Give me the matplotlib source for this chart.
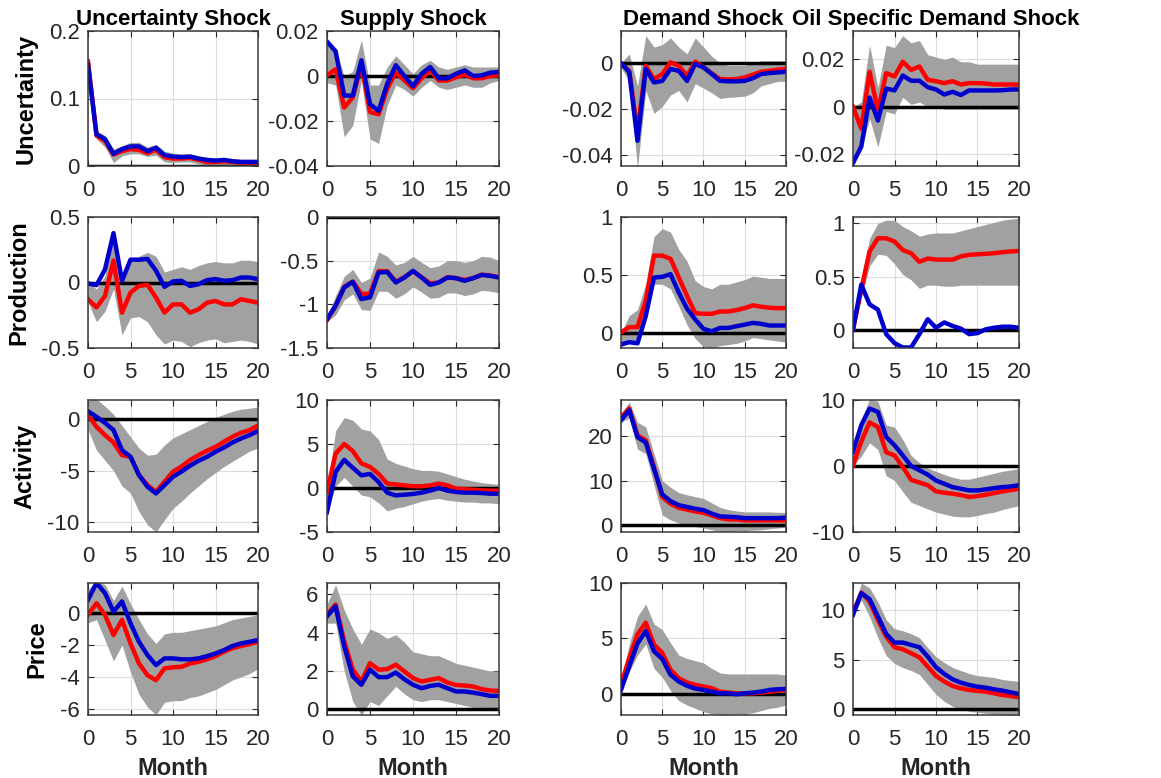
import matplotlib
matplotlib.use("Agg")
import matplotlib.pyplot as plt
import numpy as np

# impulse responses, months 0..20
months = np.arange(21)

shock_titles = ["Uncertainty Shock", "Supply Shock", "Demand Shock", "Oil Specific Demand Shock"]
var_labels = ["Uncertainty", "Production", "Activity", "Price"]

# --- Uncertainty row ---
uu_red = [0.155, 0.045, 0.037, 0.017, 0.022, 0.025, 0.024, 0.019, 0.024, 0.013, 0.011, 0.011, 0.012, 0.009, 0.006, 0.006, 0.007, 0.006, 0.005, 0.005, 0.005]
uu_blue = [0.150, 0.047, 0.040, 0.018, 0.025, 0.029, 0.029, 0.022, 0.027, 0.016, 0.014, 0.013, 0.014, 0.011, 0.009, 0.008, 0.009, 0.007, 0.006, 0.006, 0.006]
uu_lo = [0.145, 0.040, 0.028, 0.005, 0.015, 0.018, 0.018, 0.014, 0.016, 0.006, 0.005, 0.006, 0.006, 0.003, 0.002, 0.002, 0.002, 0.002, 0.001, 0.001, 0.001]
uu_hi = [0.158, 0.052, 0.045, 0.025, 0.030, 0.035, 0.035, 0.028, 0.032, 0.022, 0.019, 0.018, 0.018, 0.015, 0.012, 0.012, 0.012, 0.011, 0.010, 0.010, 0.010]

su_red = [0.0003, 0.003, -0.014, -0.0095, 0.005, -0.016, -0.017, -0.0057, 0.0015, -0.002, -0.0054, -0.001, 0.0025, -0.002, -0.002, -0.0006, 0.0006, -0.001, -0.001, 0.0, 0.0003]
su_blue = [0.0153, 0.011, -0.0087, -0.0087, 0.007, -0.0125, -0.0155, -0.0035, 0.0048, 0.0, -0.0045, 0.001, 0.004, -0.001, -0.001, 0.001, 0.0025, 0.0, 0.0003, 0.0015, 0.0018]
su_lo = [-0.003, -0.004, -0.027, -0.022, -0.002, -0.028, -0.030, -0.013, -0.004, -0.006, -0.009, -0.005, -0.002, -0.005, -0.006, -0.005, -0.004, -0.005, -0.005, -0.003, -0.002]
su_hi = [0.016, 0.012, 0.0, 0.002, 0.016, -0.004, -0.004, 0.004, 0.009, 0.005, 0.001, 0.005, 0.007, 0.004, 0.003, 0.004, 0.005, 0.004, 0.004, 0.004, 0.004]

du_red = [-0.0004, -0.0034, -0.030, -0.0012, -0.007, -0.0048, 0.0003, -0.0012, -0.0056, 0.0006, -0.0019, -0.0045, -0.007, -0.0072, -0.007, -0.0063, -0.0051, -0.0038, -0.0034, -0.0029, -0.0026]
du_blue = [0.0, -0.004, -0.034, -0.0026, -0.0085, -0.0078, -0.0026, -0.0034, -0.0078, -0.0004, -0.0019, -0.0048, -0.0078, -0.008, -0.008, -0.0078, -0.0066, -0.0048, -0.0044, -0.0041, -0.0038]
du_lo = [-0.002, -0.008, -0.046, -0.012, -0.022, -0.019, -0.014, -0.012, -0.017, -0.009, -0.011, -0.013, -0.0155, -0.015, -0.0148, -0.0145, -0.013, -0.010, -0.009, -0.008, -0.008]
du_hi = [0.0, 0.004, -0.010, 0.012, 0.007, 0.008, 0.011, 0.007, 0.004, 0.011, 0.007, 0.003, 0.0, -0.001, -0.001, -0.001, 0.0, 0.001, 0.001, 0.001, 0.001]

ou_red = [0.0, -0.0092, 0.0148, -0.0017, 0.0142, 0.0128, 0.019, 0.0156, 0.017, 0.0114, 0.0108, 0.010, 0.0108, 0.0094, 0.010, 0.010, 0.0098, 0.0094, 0.0094, 0.0094, 0.0094]
ou_blue = [-0.0237, -0.0168, 0.0039, -0.0058, 0.0077, 0.0069, 0.0132, 0.011, 0.011, 0.0083, 0.0073, 0.0052, 0.0063, 0.005, 0.0069, 0.0069, 0.0069, 0.0069, 0.007, 0.0073, 0.0073]
ou_lo = [-0.025, -0.018, -0.005, -0.017, -0.002, -0.003, 0.004, 0.001, 0.002, 0.0, 0.0, -0.001, -0.001, -0.001, -0.001, -0.001, -0.001, -0.001, -0.001, -0.001, -0.001]
ou_hi = [0.0, 0.002, 0.026, 0.008, 0.026, 0.025, 0.030, 0.027, 0.028, 0.022, 0.021, 0.020, 0.021, 0.019, 0.019, 0.018, 0.018, 0.018, 0.018, 0.018, 0.018]

# --- Production row ---
up_red = [-0.128, -0.19, -0.103, 0.167, -0.23, -0.077, -0.026, -0.018, -0.115, -0.23, -0.167, -0.167, -0.23, -0.205, -0.154, -0.141, -0.167, -0.167, -0.128, -0.141, -0.154]
up_blue = [-0.008, -0.02, 0.10, 0.377, 0.013, 0.174, 0.174, 0.18, 0.09, -0.033, 0.008, 0.013, -0.026, -0.013, 0.018, 0.026, 0.013, 0.018, 0.038, 0.038, 0.026]
up_lo = [-0.15, -0.30, -0.22, -0.05, -0.40, -0.27, -0.26, -0.30, -0.40, -0.47, -0.44, -0.45, -0.49, -0.46, -0.44, -0.43, -0.46, -0.45, -0.44, -0.45, -0.47]
up_hi = [0.0, -0.05, 0.05, 0.38, 0.05, 0.15, 0.20, 0.23, 0.20, 0.08, 0.10, 0.12, 0.10, 0.13, 0.15, 0.16, 0.15, 0.15, 0.17, 0.17, 0.16]

sp_red = [-1.18, -1.02, -0.80, -0.74, -0.88, -0.88, -0.62, -0.62, -0.74, -0.69, -0.62, -0.69, -0.76, -0.75, -0.69, -0.70, -0.72, -0.70, -0.66, -0.67, -0.69]
sp_blue = [-1.17, -1.015, -0.807, -0.742, -0.94, -0.92, -0.636, -0.629, -0.75, -0.693, -0.617, -0.693, -0.777, -0.75, -0.693, -0.70, -0.731, -0.70, -0.663, -0.674, -0.693]
sp_lo = [-1.20, -1.12, -0.95, -0.88, -1.06, -1.07, -0.85, -0.85, -0.93, -0.88, -0.80, -0.86, -0.93, -0.92, -0.87, -0.87, -0.90, -0.88, -0.84, -0.85, -0.87]
sp_hi = [-1.15, -0.90, -0.68, -0.60, -0.75, -0.70, -0.40, -0.45, -0.55, -0.52, -0.45, -0.52, -0.58, -0.56, -0.50, -0.50, -0.52, -0.50, -0.45, -0.46, -0.50]

dp_red = [0.005, 0.05, 0.05, 0.28, 0.667, 0.667, 0.64, 0.48, 0.32, 0.17, 0.165, 0.165, 0.185, 0.185, 0.197, 0.214, 0.238, 0.226, 0.217, 0.214, 0.214]
dp_blue = [-0.10, -0.08, -0.09, 0.145, 0.478, 0.484, 0.507, 0.35, 0.21, 0.116, 0.035, 0.014, 0.043, 0.043, 0.058, 0.072, 0.087, 0.078, 0.064, 0.064, 0.064]
dp_lo = [-0.10, -0.08, -0.08, 0.15, 0.42, 0.42, 0.38, 0.23, 0.07, -0.05, -0.12, -0.13, -0.11, -0.10, -0.09, -0.07, -0.04, -0.05, -0.06, -0.07, -0.08]
dp_hi = [0.0, 0.15, 0.20, 0.42, 0.83, 0.90, 0.87, 0.72, 0.62, 0.45, 0.40, 0.38, 0.42, 0.42, 0.44, 0.46, 0.49, 0.48, 0.47, 0.47, 0.47]

op_red = [0.0, 0.38, 0.736, 0.86, 0.86, 0.83, 0.75, 0.72, 0.64, 0.67, 0.66, 0.66, 0.66, 0.69, 0.705, 0.71, 0.714, 0.72, 0.73, 0.736, 0.742]
op_blue = [0.006, 0.425, 0.24, 0.19, -0.04, -0.124, -0.165, -0.165, -0.04, 0.10, 0.02, 0.07, 0.037, 0.012, -0.04, -0.03, 0.006, 0.02, 0.03, 0.03, 0.02]
op_lo = [0.0, 0.30, 0.60, 0.71, 0.70, 0.62, 0.52, 0.47, 0.39, 0.42, 0.42, 0.41, 0.41, 0.42, 0.42, 0.42, 0.42, 0.42, 0.42, 0.42, 0.42]
op_hi = [0.0, 0.50, 0.86, 1.00, 1.03, 1.03, 0.97, 0.93, 0.88, 0.90, 0.91, 0.91, 0.91, 0.93, 0.95, 0.97, 0.99, 1.01, 1.03, 1.04, 1.05]

# --- Activity row ---
ua_red = [0.42, -0.72, -1.53, -2.25, -3.49, -3.65, -5.44, -6.42, -7.07, -6.1, -5.1, -4.6, -3.97, -3.49, -3.06, -2.67, -2.18, -1.69, -1.3, -1.04, -0.6]
ua_blue = [0.8, 0.26, -0.33, -1.04, -3.0, -3.65, -5.44, -6.58, -7.23, -6.42, -5.6, -5.1, -4.53, -4.04, -3.65, -3.16, -2.74, -2.25, -1.86, -1.53, -1.14]
ua_lo = [-1.0, -3.0, -4.0, -5.0, -6.5, -7.2, -9.0, -10.3, -11.0, -9.8, -8.7, -8.0, -7.2, -6.5, -5.8, -5.2, -4.6, -4.1, -3.6, -3.1, -2.8]
ua_hi = [2.0, 2.0, 1.3, 0.5, -0.6, -1.7, -2.8, -3.5, -3.4, -2.5, -1.8, -1.4, -1.0, -0.6, -0.2, 0.2, 0.5, 0.8, 1.0, 1.1, 1.2]

sa_red = [-0.45, 3.9, 5.0, 4.2, 2.8, 2.4, 1.6, 0.5, 0.4, 0.3, 0.2, 0.2, 0.3, 0.5, 0.3, -0.08, -0.15, -0.2, -0.27, -0.3, -0.3]
sa_blue = [-2.74, 1.82, 3.2, 2.3, 1.44, 1.6, 0.68, -0.53, -0.84, -0.76, -0.68, -0.53, -0.3, 0.0, -0.3, -0.45, -0.53, -0.53, -0.57, -0.65, -0.65]
sa_lo = [-2.8, 0.2, 1.2, 0.2, -0.8, -1.0, -1.7, -2.6, -2.3, -2.1, -1.8, -1.5, -1.3, -1.2, -1.4, -1.5, -1.6, -1.6, -1.7, -1.7, -1.8]
sa_hi = [0.0, 6.5, 8.0, 7.7, 6.7, 6.5, 5.5, 3.3, 2.8, 2.5, 2.2, 2.0, 2.0, 1.9, 1.6, 1.3, 1.0, 0.8, 0.6, 0.5, 0.4]

da_red = [24.1, 26.1, 20.1, 19.0, 13.0, 6.3, 4.8, 3.9, 3.5, 3.1, 2.8, 2.2, 1.6, 1.3, 1.3, 1.1, 1.1, 1.1, 1.1, 1.1, 1.1]
da_blue = [23.5, 25.7, 19.7, 18.5, 12.6, 6.9, 5.4, 4.5, 4.1, 3.7, 3.4, 2.6, 2.0, 1.9, 1.8, 1.6, 1.6, 1.6, 1.6, 1.6, 1.7]
da_lo = [23.0, 24.0, 17.0, 16.0, 9.0, 2.3, 1.2, 0.5, 0.0, -0.3, -0.6, -1.0, -1.4, -1.4, -1.3, -1.2, -1.1, -1.0, -0.8, -0.6, -0.4]
da_hi = [25.0, 27.5, 23.0, 22.0, 16.0, 10.0, 8.5, 7.3, 6.8, 6.4, 6.0, 5.0, 4.0, 3.5, 3.2, 3.0, 3.0, 3.0, 3.0, 2.9, 2.9]

oa_red = [0.1, 3.7, 6.6, 5.9, 2.1, 1.6, -0.15, -2.1, -2.5, -2.9, -3.85, -4.05, -4.2, -4.4, -4.7, -4.55, -4.35, -4.1, -3.85, -3.65, -3.45]
oa_blue = [2.2, 6.2, 8.7, 8.2, 4.4, 3.15, 1.6, 0.0, -0.65, -1.3, -2.2, -2.7, -3.2, -3.45, -3.7, -3.7, -3.55, -3.35, -3.2, -3.1, -2.9]
oa_lo = [0.0, 1.5, 3.5, 2.5, -1.5, -2.2, -3.9, -5.5, -6.0, -6.5, -7.0, -7.3, -7.6, -7.7, -7.7, -7.5, -7.2, -7.0, -6.6, -6.3, -6.0]
oa_hi = [2.3, 7.0, 10.2, 9.8, 6.2, 5.9, 4.0, 1.6, 0.5, -0.3, -0.8, -1.3, -1.7, -2.0, -2.0, -1.7, -1.4, -1.1, -0.8, -0.6, -0.4]

# --- Price row ---
upr_red = [-0.1, 0.63, -0.1, -1.37, -0.42, -1.9, -3.16, -3.9, -4.21, -3.47, -3.4, -3.37, -3.16, -3.05, -2.9, -2.7, -2.42, -2.2, -2.06, -1.94, -1.79]
upr_blue = [0.84, 1.9, 1.26, 0.1, 0.74, -0.63, -1.8, -2.63, -3.26, -2.84, -2.84, -2.9, -2.9, -2.84, -2.7, -2.53, -2.32, -2.06, -1.9, -1.8, -1.68]
upr_lo = [-0.6, -0.4, -1.7, -3.0, -2.0, -3.7, -5.1, -5.9, -6.4, -5.6, -5.5, -5.5, -5.3, -5.2, -5.0, -4.8, -4.5, -4.2, -4.0, -3.8, -3.5]
upr_hi = [1.5, 2.0, 1.8, 0.8, 1.7, 0.6, -0.4, -1.3, -1.9, -1.3, -1.2, -1.2, -1.1, -1.0, -0.9, -0.8, -0.6, -0.4, -0.3, -0.2, -0.1]

spr_red = [4.95, 5.47, 3.55, 2.07, 1.45, 2.41, 2.07, 2.1, 2.33, 1.98, 1.63, 1.45, 1.54, 1.63, 1.4, 1.27, 1.24, 1.19, 1.05, 0.98, 0.96]
spr_blue = [4.86, 5.38, 3.29, 1.72, 1.28, 2.07, 1.68, 1.68, 1.92, 1.57, 1.28, 1.1, 1.22, 1.28, 1.1, 0.93, 0.93, 0.87, 0.79, 0.7, 0.7]
spr_lo = [4.5, 4.5, 2.0, 0.4, -0.3, 0.4, 0.2, 0.7, 1.2, 0.8, 0.5, 0.4, 0.5, 0.5, 0.4, 0.3, 0.2, 0.1, 0.1, 0.0, 0.0]
spr_hi = [5.5, 6.5, 5.2, 4.2, 3.4, 4.2, 4.0, 3.7, 3.9, 3.5, 3.0, 2.9, 2.8, 2.8, 2.6, 2.4, 2.3, 2.2, 2.1, 2.0, 2.0]

dpr_red = [0.82, 3.24, 5.36, 6.42, 4.45, 3.7, 2.18, 1.42, 1.03, 0.82, 0.67, 0.52, 0.21, 0.12, 0.06, 0.06, 0.06, 0.12, 0.21, 0.3, 0.36]
dpr_blue = [0.36, 2.48, 4.55, 5.67, 3.85, 3.15, 1.73, 1.12, 0.73, 0.48, 0.36, 0.21, 0.06, 0.06, -0.03, 0.06, 0.12, 0.21, 0.36, 0.42, 0.45]
dpr_lo = [0.3, 2.0, 3.5, 4.5, 2.3, 1.5, 0.3, -0.6, -1.0, -1.3, -1.6, -1.8, -1.9, -1.9, -1.85, -1.8, -1.7, -1.5, -1.3, -1.2, -1.0]
dpr_hi = [1.0, 4.5, 7.0, 8.1, 6.3, 5.8, 4.6, 3.5, 3.2, 3.0, 2.8, 2.3, 1.9, 1.8, 1.8, 1.8, 1.8, 1.8, 1.8, 1.8, 1.7]

opr_red = [9.66, 11.74, 10.84, 8.99, 7.3, 6.24, 6.04, 5.64, 5.23, 4.3, 3.36, 2.79, 2.35, 2.11, 1.95, 1.85, 1.78, 1.61, 1.44, 1.34, 1.21]
opr_blue = [9.5, 11.68, 11.07, 9.33, 7.58, 6.71, 6.71, 6.48, 6.24, 5.3, 4.23, 3.56, 3.02, 2.68, 2.45, 2.28, 2.18, 2.01, 1.88, 1.71, 1.54]
opr_lo = [9.3, 11.0, 9.3, 7.2, 5.4, 4.6, 4.2, 3.9, 3.5, 2.5, 1.5, 0.8, 0.3, 0.0, -0.2, -0.3, -0.4, -0.5, -0.55, -0.6, -0.6]
opr_hi = [9.8, 12.7, 12.2, 10.8, 9.0, 8.1, 7.9, 7.6, 7.2, 6.2, 5.3, 4.7, 4.2, 3.9, 3.6, 3.4, 3.3, 3.2, 3.0, 2.9, 2.8]

# axis limits and ticks per panel
ylims = [[(0, 0.2), (-0.04, 0.02), (-0.045, 0.014), (-0.025, 0.032)],
         [(-0.5, 0.5), (-1.5, 0.0), (-0.13, 1.0), (-0.17, 1.06)],
         [(-11, 1.9), (-5, 10), (-1.5, 28), (-10, 10)],
         [(-6.4, 1.9), (-0.3, 6.6), (-1.9, 10), (-0.57, 12.7)]]
yticks = [[[0, 0.1, 0.2], [-0.04, -0.02, 0, 0.02], [-0.04, -0.02, 0], [-0.02, 0, 0.02]],
          [[-0.5, 0, 0.5], [-1.5, -1, -0.5, 0], [0, 0.5, 1], [0, 0.5, 1]],
          [[-10, -5, 0], [-5, 0, 5, 10], [0, 10, 20], [-10, 0, 10]],
          [[-6, -4, -2, 0], [0, 2, 4, 6], [0, 5, 10], [0, 5, 10]]]

panels = [[(uu_lo, uu_hi, uu_red, uu_blue), (su_lo, su_hi, su_red, su_blue),
           (du_lo, du_hi, du_red, du_blue), (ou_lo, ou_hi, ou_red, ou_blue)],
          [(up_lo, up_hi, up_red, up_blue), (sp_lo, sp_hi, sp_red, sp_blue),
           (dp_lo, dp_hi, dp_red, dp_blue), (op_lo, op_hi, op_red, op_blue)],
          [(ua_lo, ua_hi, ua_red, ua_blue), (sa_lo, sa_hi, sa_red, sa_blue),
           (da_lo, da_hi, da_red, da_blue), (oa_lo, oa_hi, oa_red, oa_blue)],
          [(upr_lo, upr_hi, upr_red, upr_blue), (spr_lo, spr_hi, spr_red, spr_blue),
           (dpr_lo, dpr_hi, dpr_red, dpr_blue), (opr_lo, opr_hi, opr_red, opr_blue)]]

plt.rcParams['font.family'] = ['Liberation Sans', 'DejaVu Sans']
plt.rcParams['axes.unicode_minus'] = False

W, H = 1161, 778
fig = plt.figure(figsize=(W / 100, H / 100), dpi=100)

# panel boxes in pixels
col_left = [88, 327, 621, 853]
col_width = [170, 172, 165, 166]
row_top = [31, 217, 400, 583]
row_height = [135, 131, 132, 132]

frame = '#262626'

for r in range(4):
    for c in range(4):
        lo, hi, red, blue = panels[r][c]
        ax = fig.add_axes([col_left[c] / W, 1 - (row_top[r] + row_height[r]) / H,
                           col_width[c] / W, row_height[r] / H])
        ax.fill_between(months, lo, hi, color='#a1a1a1', linewidth=0)
        ax.axhline(0, color='black', lw=2.5)
        ax.plot(months, red, color='#ff0000', lw=3.2)
        ax.plot(months, blue, color='#0000cc', lw=3.2)

        ax.set_xlim(0, 20)
        ax.set_ylim(*ylims[r][c])
        ax.set_xticks([0, 5, 10, 15, 20])
        ax.set_yticks(yticks[r][c])
        ax.yaxis.set_major_formatter(matplotlib.ticker.FuncFormatter(lambda v, p: f"{v:g}"))
        ax.set_axisbelow(True)
        ax.grid(True, color='#dcdcdc', lw=0.8)
        ax.tick_params(direction='in', top=True, right=True, length=4, width=0.8,
                       color=frame, labelsize=16, labelcolor=frame)
        ax.tick_params(axis='x', pad=10)
        ax.tick_params(axis='y', pad=6)
        for s in ax.spines.values():
            s.set_color('#3a3a3a')
            s.set_linewidth(1.1)

        if r == 0:
            ax.set_title(shock_titles[c], fontsize=16, fontweight='bold', pad=4)
        if c == 0:
            ax.set_ylabel(var_labels[r], fontsize=17, fontweight='bold', labelpad=8)
        if r == 3:
            ax.set_xlabel("Month", fontsize=17, fontweight='bold', labelpad=5, color=frame)

fig.savefig("out.png", dpi=100)
